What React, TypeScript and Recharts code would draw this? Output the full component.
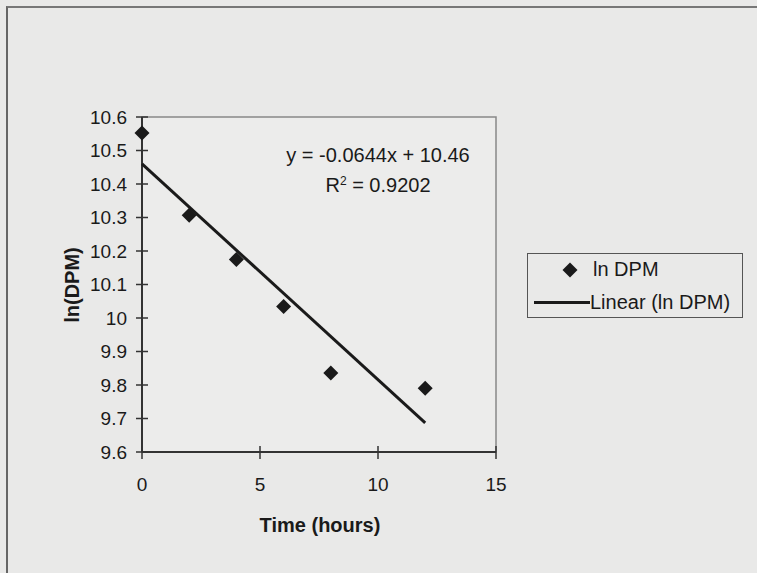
import { ScatterChart, Scatter, XAxis, YAxis, ReferenceArea } from "recharts";

const timeHours = [0, 2, 4, 6, 8, 12];
const lnDpm = [10.552, 10.307, 10.175, 10.034, 9.836, 9.79];
const trendX = [0, 12];
const trendY = [10.46, 9.687];
const xTicks = [0, 5, 10, 15];
const yTicks = [9.6, 9.7, 9.8, 9.9, 10, 10.1, 10.2, 10.3, 10.4, 10.5, 10.6];

const points = timeHours.map((x, i) => ({ x, y: lnDpm[i] }));
const trend = trendX.map((x, i) => ({ x, y: trendY[i] }));

const FONT = "Liberation Sans, Arial, sans-serif";
const INK = "#1a1a1a";

const Diamond = (props: any) => {
  const { cx, cy } = props;
  if (cx == null || cy == null) return <g />;
  const r = 7.5;
  return <polygon points={`${cx},${cy - r} ${cx + r},${cy} ${cx},${cy + r} ${cx - r},${cy}`} fill={INK} />;
};

const XTick = (props: any) => {
  const { x, y, payload } = props;
  return (
    <g>
      <line x1={x} y1={y - 6} x2={x} y2={y + 7} stroke="#333" strokeWidth={1.5} />
      <text x={x} y={y + 32} textAnchor="middle" dominantBaseline="central" fontSize={19} fill={INK} fontFamily={FONT}>
        {payload.value}
      </text>
    </g>
  );
};

const YTick = (props: any) => {
  const { x, y, payload } = props;
  return (
    <g>
      <line x1={x - 6} y1={y} x2={x + 6} y2={y} stroke="#333" strokeWidth={1.5} />
      <text x={x - 15} y={y} textAnchor="end" dominantBaseline="central" fontSize={19} fill={INK} fontFamily={FONT}>
        {payload.value}
      </text>
    </g>
  );
};

// legend drawn as a plain box so it does not take space from the plot
const LegendBox = () => (
  <div
    style={{
      position: "absolute",
      left: 527,
      top: 253,
      width: 214,
      height: 63,
      border: "1px solid #555",
      fontFamily: FONT,
      fontSize: 20,
      color: INK,
    }}
  >
    <svg width={20} height={20} style={{ position: "absolute", left: 32, top: 6 }}>
      <polygon points="10,2.5 17.5,10 10,17.5 2.5,10" fill={INK} />
    </svg>
    <div style={{ position: "absolute", left: 65, top: 3, lineHeight: "24px" }}>ln DPM</div>
    <div style={{ position: "absolute", left: 6, top: 47, width: 56, height: 3, background: INK }} />
    <div style={{ position: "absolute", left: 62, top: 36, lineHeight: "24px" }}>Linear (ln DPM)</div>
  </div>
);

export default function App() {
  return (
    <div style={{ position: "absolute", left: 0, top: 0, width: 757, height: 573, background: "#e9e9e8", overflow: "hidden" }}>
      <div style={{ position: "absolute", left: 6, top: 6, width: 800, height: 600, borderLeft: "2px solid #666", borderTop: "2px solid #777" }} />
      <ScatterChart width={757} height={573} margin={{ top: 117, right: 261, bottom: 61, left: 82 }}>
        <ReferenceArea x1={0} x2={15} y1={9.6} y2={10.6} fill="#ececeb" fillOpacity={1} stroke="#888" strokeWidth={1.5} />
        <XAxis
          type="number"
          dataKey="x"
          domain={[0, 15]}
          ticks={xTicks}
          height={60}
          tickSize={0}
          tickMargin={0}
          tickLine={false}
          axisLine={{ stroke: "#333", strokeWidth: 2 }}
          tick={<XTick />}
          interval={0}
        />
        <YAxis
          type="number"
          dataKey="y"
          domain={[9.6, 10.6]}
          ticks={yTicks}
          width={60}
          tickSize={0}
          tickMargin={0}
          tickLine={false}
          axisLine={{ stroke: "#333", strokeWidth: 2 }}
          tick={<YTick />}
          interval={0}
        />
        <Scatter name="Linear (ln DPM)" data={trend} line={{ stroke: INK, strokeWidth: 3 }} shape={() => <g />} isAnimationActive={false} />
        <Scatter name="ln DPM" data={points} shape={<Diamond />} isAnimationActive={false} />
      </ScatterChart>
      <LegendBox />
      <div style={{ position: "absolute", left: 0, width: 757, top: 0, fontFamily: FONT, color: INK }}>
        <div style={{ position: "absolute", left: 278, width: 200, top: 142, textAlign: "center", fontSize: 20, lineHeight: "26px" }}>
          y = -0.0644x + 10.46
        </div>
        <div style={{ position: "absolute", left: 278, width: 200, top: 172, textAlign: "center", fontSize: 20, lineHeight: "26px" }}>
          R<sup style={{ fontSize: 12, verticalAlign: "7px", lineHeight: 0 }}>2</sup> = 0.9202
        </div>
        <div style={{ position: "absolute", left: 220, width: 200, top: 511, textAlign: "center", fontSize: 20, fontWeight: "bold", lineHeight: "28px" }}>
          Time (hours)
        </div>
        <div
          style={{
            position: "absolute",
            left: -28,
            width: 200,
            top: 271,
            textAlign: "center",
            fontSize: 20,
            fontWeight: "bold",
            lineHeight: "28px",
            transform: "rotate(-90deg)",
          }}
        >
          ln(DPM)
        </div>
      </div>
    </div>
  );
}
